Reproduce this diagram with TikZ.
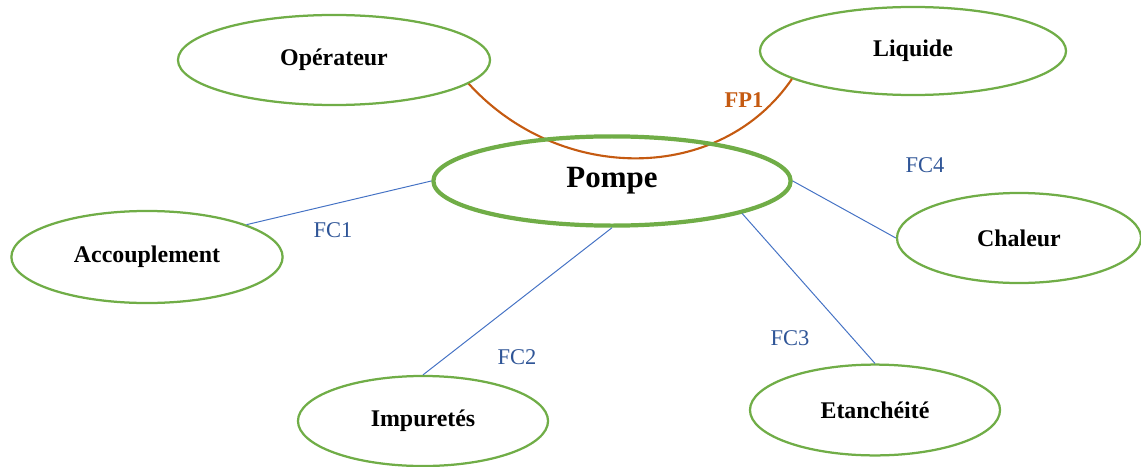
\documentclass[tikz,border=0pt]{standalone}
\usepackage{fontspec}
\setmainfont{Liberation Serif}
\usetikzlibrary{shapes.geometric}
\definecolor{mygreen}{RGB}{112,173,71}
\definecolor{myblue}{RGB}{68,114,196}
\definecolor{mytextblue}{RGB}{47,85,151}
\definecolor{myorange}{RGB}{197,90,17}

\begin{document}
\begin{tikzpicture}[x=0.025cm, y=-0.025cm,
    bubble/.style={ellipse, draw=mygreen, line width=1.6pt, inner sep=0pt,
                   font=\fontsize{17}{20}\selectfont\bfseries},
    link/.style={myblue, line width=0.7pt},
    fclabel/.style={mytextblue, font=\fontsize{16}{19}\selectfont}]

    \useasboundingbox (0,0) rectangle (1141,466);

    % Draw the outer nodes
    \node[bubble, minimum width=7.8cm, minimum height=2.25cm] (operateur) at (334,60) {Opérateur};
    \node[bubble, minimum width=7.65cm, minimum height=2.2cm] (liquide) at (913,51) {Liquide};
    \node[bubble, minimum width=6.78cm, minimum height=2.3cm] (accouplement) at (147,257) {Accouplement};
    \node[bubble, minimum width=6.1cm, minimum height=2.25cm] (chaleur) at (1019,238) {Chaleur};
    \node[bubble, minimum width=6.25cm, minimum height=2.25cm] (impuretes) at (423,421) {Impuretés};
    \node[bubble, minimum width=6.25cm, minimum height=2.27cm] (etancheite) at (875,410) {Etanchéité};

    % Draw the main function (under the central node)
    \draw[myorange, line width=1.5pt] (operateur.-10) .. controls (560,184) and (720,184) .. (liquide.-167);
    \node[myorange, font=\fontsize{16}{19}\selectfont\bfseries] (fp1) at (744,100) {FP1};

    % Draw the central node
    \node[bubble, line width=3pt, minimum width=8.93cm, minimum height=2.23cm,
          font=\fontsize{22}{26}\selectfont\bfseries] (pompe) at (612,181) {\raisebox{-4pt}{Pompe}};

    % Draw the constraint functions
    \draw[link] (accouplement.18) -- (pompe.west);
    \draw[link] (impuretes.north) -- (pompe.south);
    \draw[link] (etancheite.north) -- (pompe.-14);
    \draw[link] (chaleur.west) -- (pompe.east);

    \node[fclabel] (fc1) at (333,230) {FC1};
    \node[fclabel] (fc2) at (517,357) {FC2};
    \node[fclabel] (fc3) at (790,338) {FC3};
    \node[fclabel] (fc4) at (925,165) {FC4};

\end{tikzpicture}
\end{document}
